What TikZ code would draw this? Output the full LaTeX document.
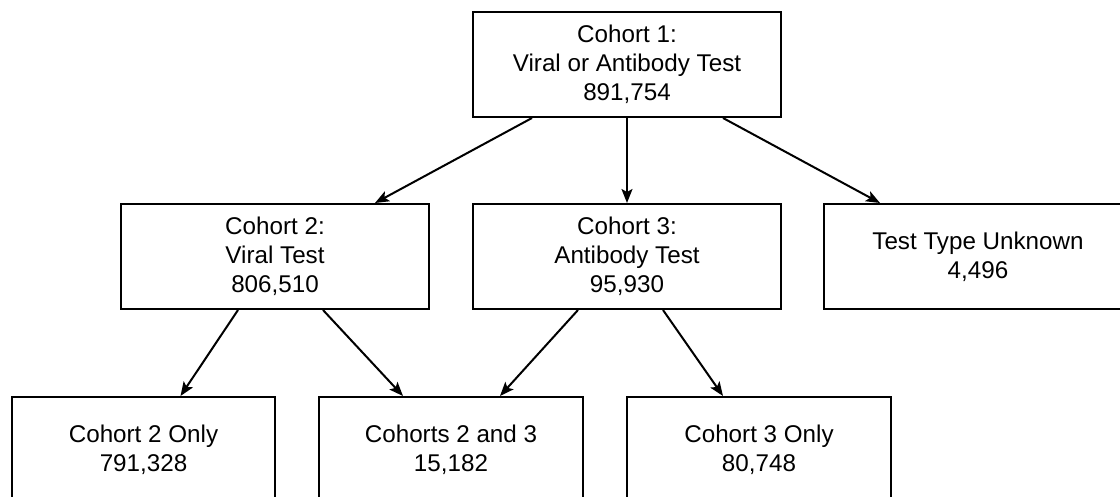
\documentclass[tikz,border=0pt]{standalone}
\usepackage{fontspec}
\setmainfont{Liberation Sans}
\usetikzlibrary{arrows.meta}
\begin{document}
\begin{tikzpicture}[x=1pt,y=-1pt,
  boxw/.style={draw=black,line width=2pt,fill=white,minimum width=308pt,minimum height=105pt,
    inner sep=0pt,align=center,font=\fontsize{24.2}{29}\selectfont},
  boxn/.style={boxw,minimum width=264pt},
  arr/.style={line width=2pt,-{Stealth[length=14pt,width=11pt,inset=3pt]}}]
\clip (0,0) rectangle (1120,497);
\fill[white] (0,0) rectangle (1120,497);
\node[boxw] (c1) at (627,64.5) {Cohort 1:\\Viral or Antibody Test\\891,754};
\node[boxw] (c2) at (275,256.5) {Cohort 2:\\Viral Test\\806,510};
\node[boxw] (c3) at (627,256.5) {Cohort 3:\\Antibody Test\\95,930};
\node[boxw] (unk) at (978,256.5) {Test Type Unknown\\4,496};
\node[boxn,minimum width=263pt] (c2o) at (143.5,449.5) {Cohort 2 Only\\791,328};
\node[boxn] (c23) at (451,449.5) {Cohorts 2 and 3\\15,182};
\node[boxn] (c3o) at (759,449.5) {Cohort 3 Only\\80,748};
\draw[arr] ([xshift=-95pt]c1.south) -- ([xshift=100pt]c2.north);
\draw[arr] (c1.south) -- (c3.north);
\draw[arr] ([xshift=96pt]c1.south) -- ([xshift=-98pt]unk.north);
\draw[arr] ([xshift=-37pt]c2.south) -- ([xshift=37pt]c2o.north);
\draw[arr] ([xshift=48pt]c2.south) -- ([xshift=-48pt]c23.north);
\draw[arr] ([xshift=-49pt]c3.south) -- ([xshift=49pt]c23.north);
\draw[arr] ([xshift=36pt]c3.south) -- ([xshift=-36pt]c3o.north);
\end{tikzpicture}
\end{document}
